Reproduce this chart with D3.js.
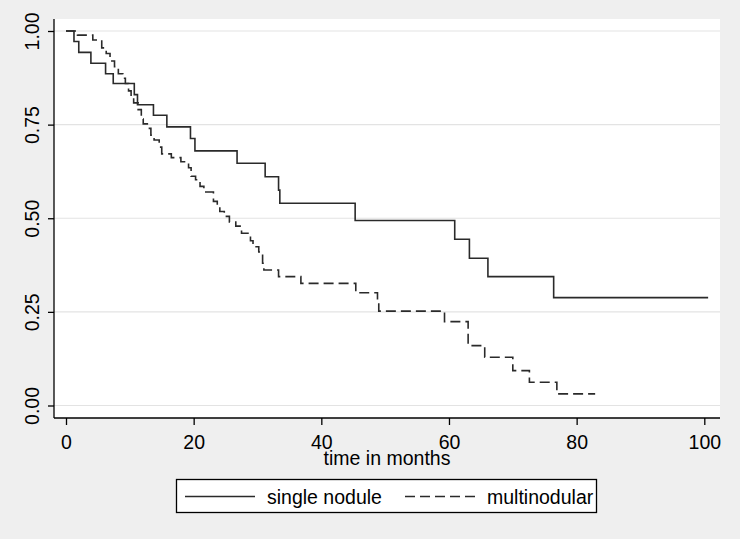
<!DOCTYPE html>
<html>
<head>
<meta charset="utf-8">
<script src="https://cdn.jsdelivr.net/npm/d3@7"></script>
<style>
	html, body { margin: 0; padding: 0; background: #efefef; }
	svg text { font-family: "Liberation Sans", Arial, sans-serif; fill: #000; }
</style>
</head>
<body>
<svg id="chart" width="740" height="539"></svg>
<script>
"use strict";

//single nodule: step times (months) and survival after each step
let single_time = [0, 1.25, 2.0, 3.9, 6.2, 7.4, 10.7, 11.2, 13.7, 15.8, 19.5, 20.2, 26.8, 31.2, 33.3, 33.5, 45.3, 60.9, 63.2, 66.1, 76.4];
let single_surv = [1.0, 0.972, 0.943, 0.914, 0.886, 0.860, 0.830, 0.803, 0.775, 0.744, 0.713, 0.680, 0.647, 0.611, 0.575, 0.540, 0.494, 0.444, 0.393, 0.344, 0.288];
let single_end = 100.6;

//multinodular
let multi_time = [0, 1.8, 4.2, 5.6, 6.3, 6.9, 7.6, 8.2, 8.9, 9.3, 9.8, 10.2, 10.6, 11.3, 11.8, 12.1, 12.9, 13.3, 13.8, 14.6, 15.0, 16.5, 18.0, 19.2, 19.6, 20.3, 21.0, 21.6, 23.1, 23.7, 24.1, 24.8, 25.6, 26.6, 27.5, 28.9, 29.3, 30.2, 30.8, 31.0, 33.3, 36.8, 45.4, 48.8, 49.0, 59.3, 63.0, 65.6, 70.0, 72.6, 76.9];
let multi_surv = [1.0, 0.989, 0.976, 0.955, 0.94, 0.92, 0.905, 0.886, 0.874, 0.86, 0.84, 0.825, 0.808, 0.79, 0.765, 0.752, 0.74, 0.722, 0.709, 0.69, 0.672, 0.662, 0.651, 0.635, 0.612, 0.603, 0.585, 0.57, 0.545, 0.53, 0.518, 0.505, 0.49, 0.479, 0.46, 0.44, 0.424, 0.41, 0.38, 0.362, 0.344, 0.326, 0.301, 0.28, 0.252, 0.224, 0.16, 0.129, 0.093, 0.062, 0.031];
let multi_end = 82.9;

let x_ticks = [0, 20, 40, 60, 80, 100];
let y_ticks = [0, 0.25, 0.5, 0.75, 1];
let series_names = ["single nodule", "multinodular"];

let svg = d3.select("svg#chart");

//plot region
let plot_l = 54, plot_r = 720, plot_t = 19, plot_b = 418;
let x = d3.scaleLinear().domain([0, 100]).range([66, 704.3]);
let y = d3.scaleLinear().domain([0, 1]).range([405.5, 31]);

svg.append("rect")
	.attr("x", plot_l).attr("y", plot_t)
	.attr("width", plot_r - plot_l).attr("height", plot_b - plot_t)
	.attr("fill", "#fff");

//grid lines
svg.append("g")
	.selectAll("line")
	.data(y_ticks)
	.join("line")
	.attr("x1", plot_l).attr("x2", plot_r)
	.attr("y1", d => y(d)).attr("y2", d => y(d))
	.attr("stroke", "#e3e3e3")
	.attr("stroke-width", 1.2);

//y axis
let y_axis = svg.append("g")
	.attr("transform", "translate(" + plot_l + ",0)")
	.call(d3.axisLeft(y).tickValues(y_ticks).tickSize(6).tickFormat(d3.format(".2f")));
y_axis.select(".domain").attr("d", "M0," + plot_t + "V" + plot_b).attr("stroke", "#000").attr("stroke-width", 1.3);
y_axis.selectAll(".tick line").attr("stroke", "#000").attr("stroke-width", 1.3);
y_axis.selectAll(".tick text")
	.attr("x", null).attr("dy", null)
	.attr("transform", "translate(-15,0) rotate(-90)")
	.attr("text-anchor", "middle")
	.attr("font-size", 19.5)
	.attr("font-family", null);

//x axis
let x_axis = svg.append("g")
	.attr("transform", "translate(0," + plot_b + ")")
	.call(d3.axisBottom(x).tickValues(x_ticks).tickSize(7));
x_axis.select(".domain").attr("d", "M" + plot_l + ",0H" + plot_r).attr("stroke", "#000").attr("stroke-width", 1.3);
x_axis.selectAll(".tick line").attr("stroke", "#000").attr("stroke-width", 1.3);
x_axis.selectAll(".tick text")
	.attr("y", 30.5).attr("dy", null)
	.attr("font-size", 19.5)
	.attr("font-family", null);

svg.append("text")
	.attr("x", (plot_l + plot_r) / 2)
	.attr("y", 465)
	.attr("text-anchor", "middle")
	.attr("font-size", 19.5)
	.text("time in months");

//survival curves
let step_line = d3.line()
	.x(function(d) { return x(d[0]); })
	.y(function(d) { return y(d[1]); })
	.curve(d3.curveStepAfter);

function curve_points(times, survs, end)
{
	let pts = times.map(function(t, i) { return [t, survs[i]]; });
	pts.push([end, survs[survs.length - 1]]);
	return pts;
}

let curves = svg.append("g")
	.attr("fill", "none")
	.attr("stroke", "#2a2a2a")
	.attr("stroke-width", 1.6);

curves.append("path")
	.attr("d", step_line(curve_points(single_time, single_surv, single_end)));
curves.append("path")
	.attr("stroke-dasharray", "10,5")
	.attr("d", step_line(curve_points(multi_time, multi_surv, multi_end)));

//legend
let legend = svg.append("g");
legend.append("rect")
	.attr("x", 176.5).attr("y", 479.5)
	.attr("width", 420).attr("height", 33)
	.attr("fill", "#fff")
	.attr("stroke", "#000")
	.attr("stroke-width", 1.3);

let legend_items = [
	{name: series_names[0], x0: 185, dash: null},
	{name: series_names[1], x0: 405, dash: "10,5"}
];
for (let item of legend_items)
{
	legend.append("line")
		.attr("x1", item.x0).attr("x2", item.x0 + 70)
		.attr("y1", 496.5).attr("y2", 496.5)
		.attr("stroke", "#2a2a2a")
		.attr("stroke-width", 1.6)
		.attr("stroke-dasharray", item.dash);
	legend.append("text")
		.attr("x", item.x0 + 82)
		.attr("y", 503.5)
		.attr("font-size", 19.5)
		.text(item.name);
}
</script>
</body>
</html>
